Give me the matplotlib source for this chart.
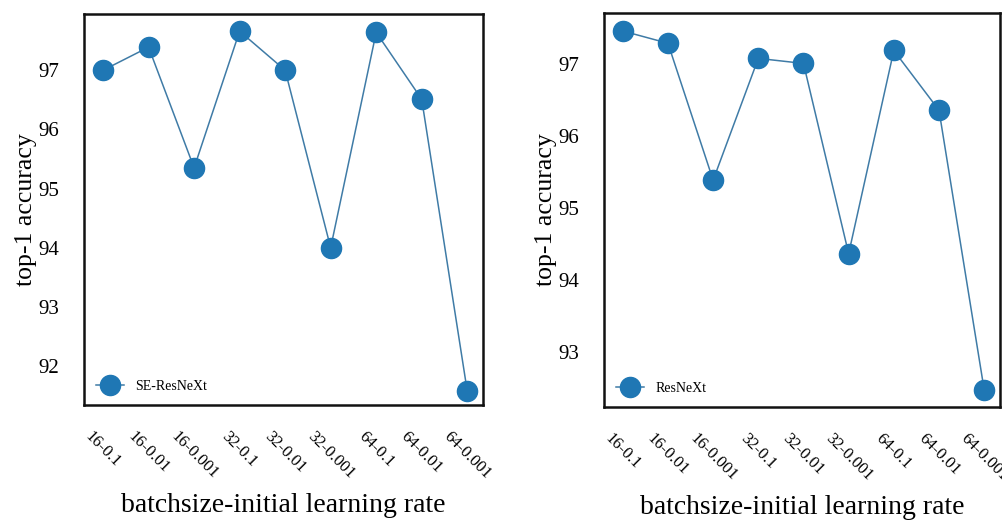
import matplotlib.pyplot as plt

# ---------------------------------------------------------------
# DATA
# ---------------------------------------------------------------
labels = ["16-0.1", "16-0.01", "16-0.001", "32-0.1", "32-0.01",
          "32-0.001", "64-0.1", "64-0.01", "64-0.001"]
se_resnext = [97.00, 97.39, 95.35, 97.66, 97.00, 94.00, 97.64, 96.51, 91.58]
resnext = [97.46, 97.29, 95.39, 97.08, 97.01, 94.37, 97.19, 96.36, 92.48]

plt.rcParams["font.family"] = ["Liberation Serif", "DejaVu Serif"]

fig = plt.figure(figsize=(10.03, 5.2), dpi=100)
ax1 = fig.add_axes([0.0837, 0.221, 0.398, 0.752])
ax2 = fig.add_axes([0.602, 0.217, 0.395, 0.758])

panels = [
    (ax1, se_resnext, "SE-ResNeXt", (91.34, 97.95), [92, 93, 94, 95, 96, 97]),
    (ax2, resnext, "ResNeXt", (92.24, 97.71), [93, 94, 95, 96, 97]),
]

for ax, vals, name, ylim, yticks in panels:
    x = list(range(len(labels)))
    ax.plot(x, vals, color="#3f7ba6", linewidth=1.1, marker="o",
            markersize=14.5, markerfacecolor="#1f77b4",
            markeredgecolor="#1f77b4", label=name)
    ax.set_xlim(-0.42, 8.35)
    ax.set_ylim(*ylim)
    ax.set_yticks(yticks)
    ax.set_xticks(x)
    ax.set_xticklabels(labels, rotation=-45)
    ax.tick_params(length=0)
    ax.tick_params(axis="y", labelsize=15, pad=18)
    ax.tick_params(axis="x", labelsize=12, pad=17)
    for s in ax.spines.values():
        s.set_linewidth(1.8)
        s.set_color("#111111")
    ax.set_ylabel("top-1 accuracy", fontsize=18.5, labelpad=1)
    ax.set_xlabel("batchsize-initial learning rate", fontsize=20, labelpad=8)
    ax.legend(loc="lower left", frameon=False, fontsize=10, markerscale=1.0,
              handlelength=2.0, borderaxespad=0.5)

plt.savefig("out.png", dpi=100)
